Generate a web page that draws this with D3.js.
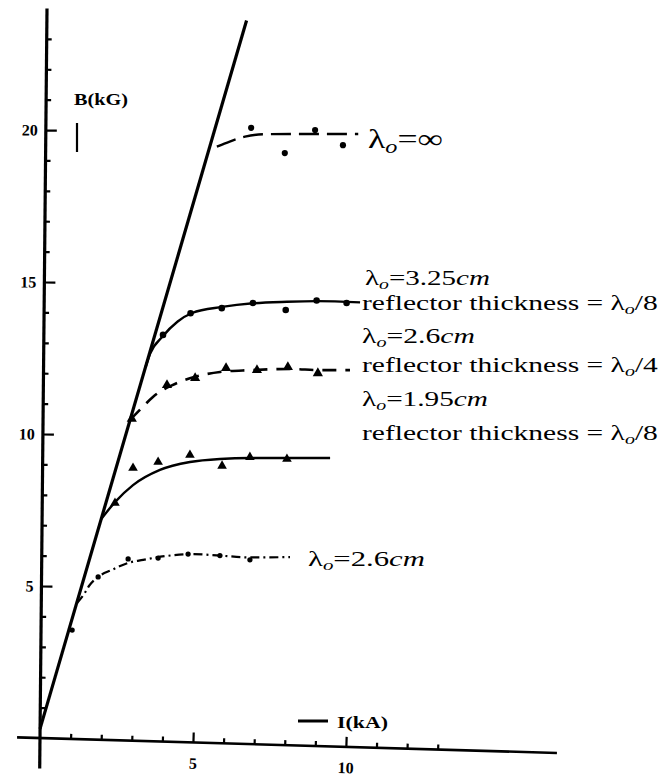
<!DOCTYPE html>
<html>
<head>
<meta charset="utf-8">
<script src="https://cdn.jsdelivr.net/npm/d3@7/dist/d3.min.js"></script>
<style>
  html, body { margin: 0; padding: 0; background: #fff; }
  svg { display: block; }
  text { font-family: "Liberation Serif", "DejaVu Serif", serif; }
</style>
</head>
<body>
<svg id="chart" width="665" height="780"></svg>
<script>
// ---- data: current I (kA) vs. field B (kG) ----
// linear (unsaturated) response line
const linearLine = [[0, 0.3], [6.75, 23.6]];

// fitted curves, one per configuration
const curveInf = [[5.78, 19.45], [6.2, 19.62], [6.7, 19.78], [7.3, 19.86], [8.5, 19.87], [10.4, 19.87]];
const curve325 = [[3.45, 12.2], [3.6, 12.65], [3.99, 13.19], [4.5, 13.7], [4.97, 13.98], [5.95, 14.18], [6.96, 14.3], [8.07, 14.35], [9.05, 14.37], [10.46, 14.33]];
const curve26a = [[2.95, 10.47], [3.33, 10.86], [3.69, 11.22], [4.31, 11.6], [5.07, 11.88], [5.88, 12.04], [6.86, 12.1], [8.17, 12.14], [9.15, 12.1], [10.13, 12.1]];
const curve195 = [[2.0, 7.2], [2.45, 7.76], [3.04, 8.32], [3.92, 8.82], [4.9, 9.08], [5.88, 9.18], [6.86, 9.21], [8.07, 9.21], [9.48, 9.21]];
const curve26b = [[1.21, 4.44], [1.45, 4.75], [1.6, 5.0], [1.9, 5.3], [2.35, 5.53], [2.88, 5.76], [3.37, 5.86], [4.15, 5.99], [5.0, 6.05], [5.88, 6.0], [6.86, 5.94], [8.17, 5.95]];

// measured points
const pointsInf = [[6.9, 20.07], [8.0, 19.24], [8.99, 20.0], [9.9, 19.5]];
const points325 = [[4.02, 13.26], [4.92, 13.97], [5.94, 14.14], [6.96, 14.31], [8.03, 14.08], [9.04, 14.39], [10.02, 14.31]];
const points26a = [[3.0, 10.5], [4.15, 11.61], [5.07, 11.84], [6.08, 12.17], [7.09, 12.1], [8.1, 12.2], [9.08, 12.0]];
const points195 = [[2.45, 7.73], [3.04, 8.88], [3.86, 9.08], [4.9, 9.31], [5.95, 8.95], [6.86, 9.24], [8.07, 9.18]];
const points26b = [[1.05, 3.55], [1.9, 5.3], [2.88, 5.89], [3.86, 5.92], [4.84, 6.05], [5.88, 6.0], [6.86, 5.86]];

// axis ticks
const xMajorTicks = [5, 10];
const xMinorTicks = [1, 2, 3, 4, 6, 7, 8, 9, 11, 12, 13];
const yMajorTicks = [5, 10, 15, 20];
const yMinorTicks = [1, 2, 3, 4, 6, 7, 8, 9, 11, 12, 13, 14, 16, 17, 18, 19, 21, 22, 23];
const xAxisTitle = "I(kA)";
const yAxisTitle = "B(kG)";

// ---- drawing ----
const svg = d3.select("#chart");
const x = d3.scaleLinear().domain([0, 10]).range([40, 346]);
const y = d3.scaleLinear().domain([0, 20]).range([738, 130]);
const SERIF = "Liberation Serif, DejaVu Serif, serif";

// x axis (slightly skewed, as in the printed figure)
const xg = svg.append("g")
  .attr("transform", `rotate(1.66, ${x(0)}, ${y(0)}) translate(0, ${y(0)})`);
xg.append("line").attr("x1", x(-0.75)).attr("x2", x(16.9)).attr("y1", 0).attr("y2", 0)
  .attr("stroke", "#000").attr("stroke-width", 2.6);
const xMinor = xg.append("g").call(d3.axisBottom(x).tickValues(xMinorTicks).tickSize(-5).tickFormat(""));
const xMajor = xg.append("g").call(d3.axisBottom(x).tickValues(xMajorTicks).tickSize(-10).tickPadding(15).tickFormat(d3.format("d")));
[xMinor, xMajor].forEach(g => {
  g.select(".domain").remove();
  g.selectAll(".tick line").attr("stroke", "#000").attr("stroke-width", 2.2);
});
xMajor.selectAll(".tick text").attr("font-family", SERIF).attr("font-weight", "bold")
  .attr("font-size", 16).attr("fill", "#000");

// y axis
const yg = svg.append("g")
  .attr("transform", `rotate(0.55, ${x(0)}, ${y(0)}) translate(${x(0)}, 0)`);
yg.append("line").attr("x1", 0).attr("x2", 0).attr("y1", y(-1)).attr("y2", y(24))
  .attr("stroke", "#000").attr("stroke-width", 3.2);
const yMinor = yg.append("g").call(d3.axisLeft(y).tickValues(yMinorTicks).tickSize(-5).tickFormat(""));
const yMajor = yg.append("g").call(d3.axisLeft(y).tickValues(yMajorTicks).tickSize(-11).tickPadding(8).tickFormat(d3.format("d")));
[yMinor, yMajor].forEach(g => {
  g.select(".domain").remove();
  g.selectAll(".tick line").attr("stroke", "#000").attr("stroke-width", 2.2);
});
yMajor.selectAll(".tick text").attr("font-family", SERIF).attr("font-weight", "bold")
  .attr("font-size", 16).attr("fill", "#000");

// stretched text helper: tspans with optional italic / subscript, fitted to a width
function label(px, py, parts, size, width, weight) {
  const t = svg.append("text").attr("x", 0).attr("y", 0)
    .attr("font-family", SERIF).attr("font-size", size).attr("fill", "#000")
    .attr("font-weight", weight || "normal");
  let shift = 0;
  parts.forEach(p => {
    const s = t.append("tspan").text(p.t);
    if (p.it) s.attr("font-style", "italic");
    const target = p.sub ? Math.round(size * 0.18) : 0;
    if (p.sub) s.attr("font-size", size * 0.68);
    if (target !== shift) { s.attr("dy", target - shift); shift = target; }
  });
  const w = t.node().getComputedTextLength();
  const sx = width ? width / w : 1;
  t.attr("transform", `translate(${px},${py}) scale(${sx},1)`);
  return t;
}

// axis titles with their short marks
label(74, 105, [{ t: yAxisTitle }], 16, 54, "bold");
svg.append("line").attr("x1", 77).attr("x2", 77).attr("y1", 123).attr("y2", 152)
  .attr("stroke", "#000").attr("stroke-width", 2.2);
label(337, 728, [{ t: xAxisTitle }], 16, 51, "bold");
svg.append("line").attr("x1", 298).attr("x2", 328).attr("y1", 721).attr("y2", 721)
  .attr("stroke", "#000").attr("stroke-width", 3);

// curves
const lineGen = d3.line().x(d => x(d[0])).y(d => y(d[1])).curve(d3.curveMonotoneX);
const straight = d3.line().x(d => x(d[0])).y(d => y(d[1]));

svg.append("path").attr("d", straight(linearLine)).attr("fill", "none")
  .attr("stroke", "#000").attr("stroke-width", 3.2);

const curves = [
  { data: curveInf, dash: "20,8", w: 2.4 },
  { data: curve325, dash: null, w: 2.4 },
  { data: curve26a, dash: "14,9", w: 2.6 },
  { data: curve195, dash: null, w: 2.4 },
  { data: curve26b, dash: "9,4,2,4", w: 2.2 }
];
curves.forEach(c => {
  svg.append("path").attr("d", lineGen(c.data)).attr("fill", "none")
    .attr("stroke", "#000").attr("stroke-width", c.w)
    .attr("stroke-dasharray", c.dash);
});

// measured points
const markerSets = [
  { data: pointsInf, type: d3.symbolCircle, size: 30 },
  { data: points325, type: d3.symbolCircle, size: 34 },
  { data: points26a, type: d3.symbolTriangle, size: 45 },
  { data: points195, type: d3.symbolTriangle, size: 40 },
  { data: points26b, type: d3.symbolCircle, size: 22 }
];
markerSets.forEach(m => {
  svg.append("g").selectAll("path").data(m.data).join("path")
    .attr("transform", d => `translate(${x(d[0])},${y(d[1])})`)
    .attr("d", d3.symbol().type(m.type).size(m.size))
    .attr("fill", "#000");
});

// series labels
const L = "\u03BB";
label(368, 148, [{ t: L }, { t: "o", it: true, sub: true }, { t: "=\u221E" }], 27, 75);
label(365, 285, [{ t: L }, { t: "o", it: true, sub: true }, { t: "=3.25" }, { t: "cm", it: true }], 20, 125);
label(362, 310, [{ t: "reflector thickness = " + L }, { t: "o", it: true, sub: true }, { t: "/8" }], 20, 296);
label(362, 343, [{ t: L }, { t: "o", it: true, sub: true }, { t: "=2.6" }, { t: "cm", it: true }], 21, 113);
label(362, 372, [{ t: "reflector thickness = " + L }, { t: "o", it: true, sub: true }, { t: "/4" }], 21, 296);
label(362, 406, [{ t: L }, { t: "o", it: true, sub: true }, { t: "=1.95" }, { t: "cm", it: true }], 21, 126);
label(362, 440, [{ t: "reflector thickness = " + L }, { t: "o", it: true, sub: true }, { t: "/8" }], 21, 296);
label(308, 566, [{ t: L }, { t: "o", it: true, sub: true }, { t: "=2.6" }, { t: "cm", it: true }], 21, 117);
</script>
</body>
</html>
